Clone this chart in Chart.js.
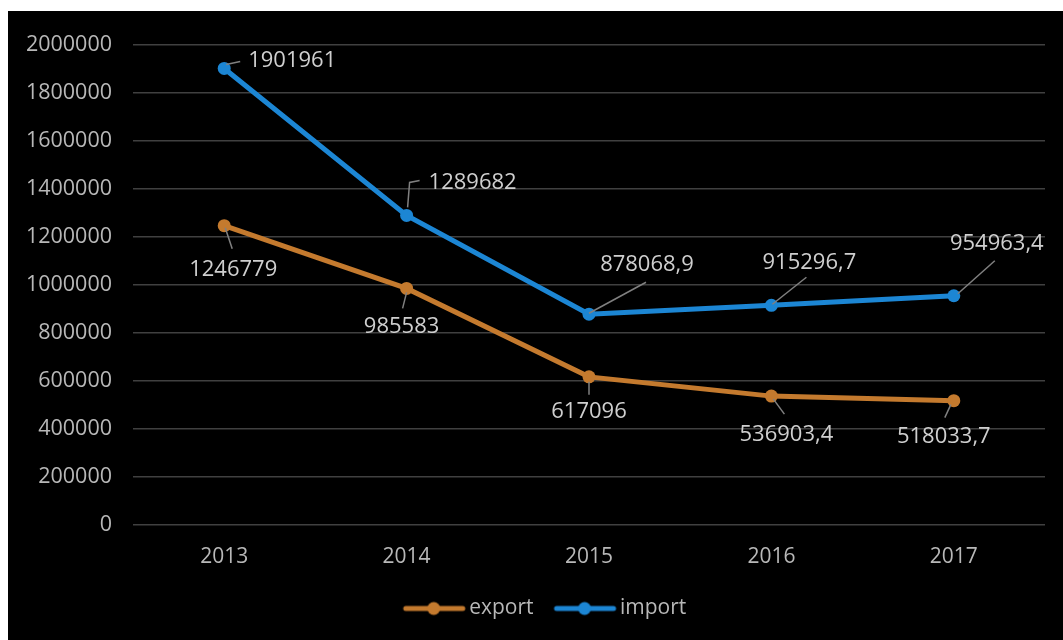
<!DOCTYPE html>
<html lang="pl">
<head>
    <meta charset="UTF-8">
    <title>export / import</title>
    <script src="https://cdn.jsdelivr.net/npm/chart.js"></script>
    <style>
        body {
            margin: 0;
            background: #ffffff;
            font-family: "Open Sans", sans-serif;
        }
        #box {
            position: absolute;
            left: 8px;
            top: 11px;
            width: 1055px;
            height: 629px;
            background: #000000;
        }
    </style>
</head>
<body>
    <div id="box"><canvas id="myChart"></canvas></div>

    <script>
        const years = ['2013', '2014', '2015', '2016', '2017'];
        const exportValues = [1246779, 985583, 617096, 536903.4, 518033.7];
        const importValues = [1901961, 1289682, 878068.9, 915296.7, 954963.4];
        const yTicks = [0, 200000, 400000, 600000, 800000, 1000000, 1200000, 1400000, 1600000, 1800000, 2000000];

        const exportColor = '#c47a2e';
        const importColor = '#1c86d4';

        // where each value label sits relative to its point (px), with its leader line
        const labelLayout = [
            [
                { dx: 9, dy: 44, align: 'center', leader: [[1, 2], [8, 23]] },
                { dx: -5, dy: 38, align: 'center', leader: [[0, 4], [-4, 20]] },
                { dx: 0, dy: 35, align: 'center', leader: [[0, 5], [0, 18]] },
                { dx: 15, dy: 39, align: 'center', leader: [[2, 3], [13, 18]] },
                { dx: -10, dy: 36, align: 'center', leader: [[-3, 4], [-9, 17]] }
            ],
            [
                { dx: 24, dy: -8, align: 'left', leader: [[2, -4], [16, -7]] },
                { dx: 22, dy: -33, align: 'left', leader: [[1, -8], [3, -33], [13, -35]] },
                { dx: 58, dy: -49, align: 'center', leader: [[0, -1], [57, -32]] },
                { dx: 38, dy: -43, align: 'center', leader: [[1, -1], [35, -28]] },
                { dx: 43, dy: -52, align: 'center', leader: [[4, -2], [41, -35]] }
            ]
        ];

        function fmt(v) {
            return String(v).replace('.', ',');
        }

        // line + dot marker, a bit wider than the legend box so it runs close to the text
        function legendIcon(color) {
            const c = document.createElement('canvas');
            c.width = 76;
            c.height = 16;
            const g = c.getContext('2d');
            g.strokeStyle = color;
            g.lineWidth = 5;
            g.lineCap = 'round';
            g.beginPath();
            g.moveTo(13, 8);
            g.lineTo(70, 8);
            g.stroke();
            g.fillStyle = color;
            g.beginPath();
            g.arc(41, 8, 6.5, 0, Math.PI * 2);
            g.fill();
            return c;
        }

        const valueLabels = {
            id: 'valueLabels',
            afterDatasetsDraw(chart) {
                const ctx = chart.ctx;
                ctx.save();
                chart.data.datasets.forEach((ds, di) => {
                    const meta = chart.getDatasetMeta(di);
                    meta.data.forEach((pt, i) => {
                        const lay = labelLayout[di][i];
                        ctx.strokeStyle = '#808080';
                        ctx.lineWidth = 1.5;
                        ctx.beginPath();
                        lay.leader.forEach((p, k) => {
                            if (k === 0) ctx.moveTo(pt.x + p[0], pt.y + p[1]);
                            else ctx.lineTo(pt.x + p[0], pt.y + p[1]);
                        });
                        ctx.stroke();
                        ctx.fillStyle = '#cfcfcf';
                        ctx.font = '22px "Open Sans"';
                        ctx.textAlign = lay.align;
                        ctx.textBaseline = 'middle';
                        ctx.fillText(fmt(ds.data[i]), pt.x + lay.dx, pt.y + lay.dy);
                    });
                });
                ctx.restore();
            }
        };

        const ctx = document.getElementById('myChart').getContext('2d');
        new Chart(ctx, {
            type: 'line',
            data: {
                labels: years,
                datasets: [{
                    label: 'export',
                    data: exportValues,
                    borderColor: exportColor,
                    backgroundColor: exportColor,
                    borderWidth: 5,
                    pointRadius: 6.5,
                    pointBorderWidth: 0,
                    tension: 0
                }, {
                    label: 'import',
                    data: importValues,
                    borderColor: importColor,
                    backgroundColor: importColor,
                    borderWidth: 5,
                    pointRadius: 6.5,
                    pointBorderWidth: 0,
                    tension: 0
                }]
            },
            options: {
                responsive: true,
                maintainAspectRatio: false,
                animation: false,
                layout: { padding: { top: 21, right: 0, bottom: 11, left: 18 } },
                plugins: {
                    tooltip: { enabled: false },
                    legend: {
                        position: 'bottom',
                        labels: {
                            usePointStyle: true,
                            pointStyleWidth: 56,
                            padding: 20,
                            color: '#b8b8b8',
                            font: { family: 'Open Sans', size: 21 },
                            generateLabels(chart) {
                                return chart.data.datasets.map((ds, i) => ({
                                    text: ds.label,
                                    fontColor: '#b8b8b8',
                                    pointStyle: legendIcon(ds.borderColor),
                                    datasetIndex: i,
                                    lineWidth: 0,
                                    strokeStyle: 'transparent',
                                    fillStyle: 'transparent'
                                }));
                            }
                        }
                    }
                },
                scales: {
                    x: {
                        offset: true,
                        grid: { display: false, drawTicks: false },
                        border: { display: false },
                        ticks: {
                            color: '#b8b8b8',
                            padding: 19,
                            font: { family: 'Open Sans', size: 21 }
                        },
                        afterFit(scale) { scale.height = 53; }
                    },
                    y: {
                        min: 0,
                        max: 2000000,
                        afterBuildTicks(scale) {
                            scale.ticks = yTicks.map(v => ({ value: v }));
                        },
                        grid: { color: '#404040', lineWidth: 1.5, drawTicks: false },
                        border: { display: false },
                        ticks: {
                            color: '#b8b8b8',
                            padding: 21,
                            font: { family: 'Open Sans', size: 21.5 },
                            callback: v => String(v)
                        },
                        afterFit(scale) { scale.width = 107; }
                    },
                    // empty strip on the right so the plot ends where the gridlines end
                    yRight: {
                        position: 'right',
                        min: 0,
                        max: 2000000,
                        grid: { display: false, drawTicks: false },
                        border: { display: false },
                        ticks: { display: false },
                        afterFit(scale) { scale.width = 18; }
                    }
                }
            },
            plugins: [valueLabels]
        });
    </script>
</body>
</html>
